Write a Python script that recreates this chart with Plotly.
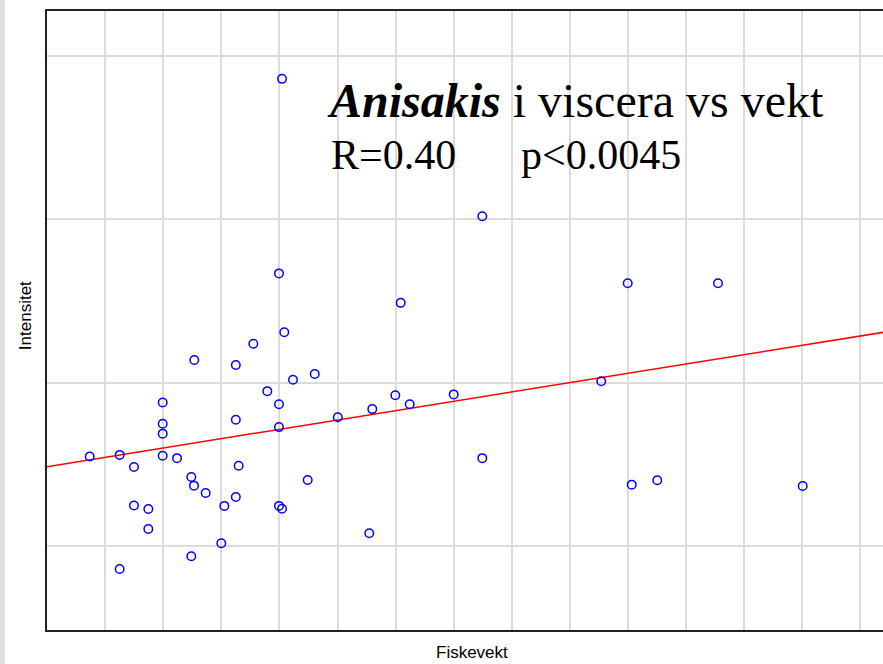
import plotly.graph_objects as go

# Fiskevekt (x) and Intensitet (y)
fish_weight = [
    404.5, 749.2, 399.3, 999.5, 1154.9, 608.8, 408.4, 355.1, 253.5, 325.0,
    460.8, 423.4, 954.0, 379.2, 700.0, 599.5, 199.1, 399.3, 624.3, 559.9,
    500.5, 325.0, 199.1, 399.3, 199.1, 73.5, 125.1, 199.1, 223.8, 749.2,
    329.9, 149.7, 248.4, 448.7, 1050.4, 1006.4, 1300.7, 253.0, 273.1, 325.0,
    305.2, 149.7, 399.3, 404.5, 174.4, 174.4, 554.7, 300.0, 248.4, 125.1,
]
intensity = [
    38.6, 30.2, 26.7, 26.1, 26.1, 24.9, 23.1, 22.4, 21.4, 21.1,
    20.55, 20.2, 20.1, 19.5, 19.3, 19.25, 18.8, 18.7, 18.7, 18.4,
    17.9, 17.75, 17.5, 17.3, 16.9, 15.5, 15.6, 15.55, 15.4, 15.4,
    14.94, 14.86, 14.25, 14.06, 14.05, 13.78, 13.7, 13.72, 13.27, 13.02,
    12.48, 12.5, 12.48, 12.31, 12.29, 11.07, 10.81, 10.2, 9.4, 8.62,
]

# regression line end points
fit_x = [0, 1440]
fit_y = [14.88, 23.1]

title_main = "<b><i>Anisakis</i></b> i viscera vs vekt"
stat_r = "R=0.40"
stat_p = "p<0.0045"

fig = go.Figure()

fig.add_trace(
    go.Scatter(
        x=fit_x,
        y=fit_y,
        mode="lines",
        line=dict(color="#ff0000", width=1.5),
        showlegend=False,
    )
)

fig.add_trace(
    go.Scatter(
        x=fish_weight,
        y=intensity,
        mode="markers",
        marker=dict(
            symbol="circle-open",
            size=8.5,
            color="#0000ff",
            line=dict(width=1.5, color="#0000ff"),
        ),
        showlegend=False,
    )
)

serif = "Liberation Serif, Times New Roman, serif"
sans = "Liberation Sans, Arial, sans-serif"

annotations = [
    dict(text=title_main, x=0.333, y=0.855, xanchor="left", yanchor="middle",
         font=dict(family=serif, size=48, color="black")),
    dict(text=stat_r, x=0.337, y=0.768, xanchor="left", yanchor="middle",
         font=dict(family=serif, size=42, color="black")),
    dict(text=stat_p, x=0.565, y=0.768, xanchor="left", yanchor="middle",
         font=dict(family=serif, size=42, color="black")),
    dict(text="Fiskevekt", x=0.5084, y=-0.037, xanchor="center", yanchor="middle",
         font=dict(family=sans, size=17, color="black")),
    dict(text="Intensitet", x=-0.0263, y=0.507, xanchor="center", yanchor="middle",
         textangle=-90, font=dict(family=sans, size=17, color="black")),
]
for a in annotations:
    fig.add_annotation(xref="paper", yref="paper", showarrow=False, **a)

# grey strip at the far left of the picture
fig.add_shape(
    type="rect", xref="paper", yref="paper",
    x0=-0.0563, x1=-0.0503, y0=-0.06, y1=1.02,
    fillcolor="#dedede", line=dict(width=0), layer="below",
)

fig.update_xaxes(
    range=[0, 1438.9],
    tick0=0,
    dtick=100,
    showgrid=True,
    gridcolor="#dcdcdc",
    gridwidth=1.5,
    zeroline=False,
    showline=True,
    mirror=True,
    linecolor="#222222",
    linewidth=1.5,
    showticklabels=False,
    ticks="",
)
fig.update_yaxes(
    range=[4.89, 42.75],
    tick0=0,
    dtick=10,
    showgrid=True,
    gridcolor="#dcdcdc",
    gridwidth=1.5,
    zeroline=False,
    showline=True,
    linecolor="#222222",
    linewidth=1.5,
    showticklabels=False,
    ticks="",
)

fig.update_layout(
    width=883,
    height=664,
    margin=dict(l=47, r=0, t=11, b=34, pad=0),
    plot_bgcolor="white",
    paper_bgcolor="white",
    showlegend=False,
)

# drop the default page margin so the figure sits at the window's corner
fig.write_html(
    "out.html",
    config={"displayModeBar": False},
    post_script="document.body.style.margin='0';document.body.style.overflow='hidden';",
)
